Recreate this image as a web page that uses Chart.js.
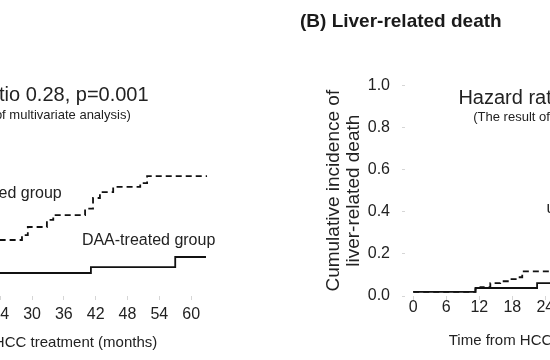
<!DOCTYPE html>
<html>
<head>
<meta charset="utf-8">
<script src="https://cdn.jsdelivr.net/npm/chart.js@4.4.0/dist/chart.umd.min.js"></script>
<style>
  html, body { margin: 0; padding: 0; background: #fff; }
  #wrap { position: relative; width: 550px; height: 360px; overflow: hidden; background: #fff; }
  #chartA { position: absolute; left: -250px; top: 0; }
  #chartB { position: absolute; left: 290px; top: 0; }
</style>
</head>
<body>
<div id="wrap">
  <canvas id="chartA" width="475" height="360" style="width:475px;height:360px"></canvas>
  <canvas id="chartB" width="447" height="360" style="width:447px;height:360px"></canvas>
</div>
<script>
// tick labels
const monthTicks = [0, 6, 12, 18, 24, 30, 36, 42, 48, 54, 60];
const yTicks = [0, 0.2, 0.4, 0.6, 0.8, 1.0];

// (A) visible part of the panel (months, cumulative incidence)
const aUntreatedMonths = [22, 28.1, 29.2, 32.8, 34, 40, 41.5, 42.8, 45.3, 50.4, 51.7, 63];
const aUntreatedValues = [0.263, 0.286, 0.324, 0.357, 0.38, 0.41, 0.46, 0.488, 0.512, 0.53, 0.563, 0.563];
const aDaaMonths = [22, 41.1, 57, 62.8];
const aDaaValues = [0.108, 0.136, 0.183, 0.183];

// (B) Liver-related death
const bUntreatedMonths = [0, 11.3, 12.2, 14, 15.8, 17.6, 18.9, 19.8, 27];
const bUntreatedValues = [0.02, 0.033, 0.042, 0.061, 0.07, 0.08, 0.089, 0.117, 0.117];
const bDaaMonths = [0, 11.3, 22.5, 27];
const bDaaValues = [0.02, 0.038, 0.061, 0.061];

const TXT = '#222';
Chart.defaults.font.family = '"Liberation Sans", Arial, Helvetica, sans-serif';
Chart.defaults.color = TXT;

function toPoints(xs, ys) {
    return xs.map((x, i) => ({ x: x, y: ys[i] }));
}

// free text placed in data coordinates
const textPlugin = {
    id: 'freeText',
    afterDatasetsDraw(chart, args, opts) {
        const ctx = chart.ctx;
        const xs = chart.scales.x, ys = chart.scales.y;
        ctx.save();
        ctx.fillStyle = TXT;
        ctx.textBaseline = 'middle';
        (opts.items || []).forEach(it => {
            ctx.font = it.font;
            ctx.textAlign = it.align || 'left';
            ctx.fillText(it.text, xs.getPixelForValue(it.x), ys.getPixelForValue(it.y));
        });
        ctx.restore();
    }
};

function lineSet(label, pts, dashed) {
    return {
        label: label,
        data: pts,
        borderColor: '#111',
        borderWidth: 1.8,
        borderDash: dashed ? [6, 4] : [],
        pointRadius: 0,
        stepped: true,
        fill: false
    };
}

function makeChart(id, cfg) {
    const ctx = document.getElementById(id).getContext('2d');
    return new Chart(ctx, {
        type: 'line',
        data: { datasets: cfg.datasets },
        plugins: [textPlugin],
        options: {
            responsive: false,
            animation: false,
            layout: { padding: { left: 10, right: 10, top: cfg.padTop, bottom: 0 } },
            plugins: {
                legend: { display: false },
                tooltip: { enabled: false },
                title: cfg.title,
                freeText: { items: cfg.items }
            },
            scales: {
                x: {
                    type: 'linear',
                    min: -1.5,
                    max: cfg.xMax,
                    border: { display: false },
                    grid: { drawOnChartArea: false, tickLength: 4, color: '#d6d6d6' },
                    afterBuildTicks: s => { s.ticks = monthTicks.filter(v => v <= s.max).map(v => ({ value: v })); },
                    ticks: { font: { size: 16 }, color: TXT, padding: cfg.xTickPad, maxRotation: 0, autoSkip: false },
                    title: {
                        display: true,
                        text: 'Time from HCC treatment (months)',
                        font: { size: 15 },
                        color: TXT,
                        padding: { top: 0, bottom: cfg.xTitlePad }
                    },
                    afterFit: s => { s.height = 64; }
                },
                y: {
                    min: 0,
                    max: 1,
                    border: { display: false },
                    grid: { drawOnChartArea: false, tickLength: 3, color: '#d6d6d6' },
                    afterBuildTicks: s => { s.ticks = yTicks.map(v => ({ value: v })); },
                    ticks: { font: { size: 16 }, color: TXT, padding: 12, callback: v => v.toFixed(1) },
                    title: {
                        display: cfg.yTitle !== null,
                        text: cfg.yTitle || '',
                        font: { size: 19, lineHeight: 1.05 },
                        color: TXT,
                        padding: { top: 24, bottom: 0 }
                    },
                    afterFit: s => { s.width = 105; }
                }
            }
        }
    });
}

makeChart('chartA', {
    xMax: 64.5,
    xTickPad: 5,
    xTitlePad: 8,
    padTop: 83,
    title: { display: false },
    yTitle: null,
    datasets: [
        lineSet('DAA-treated group', toPoints(aDaaMonths, aDaaValues), false),
        lineSet('untreated group', toPoints(aUntreatedMonths, aUntreatedValues), true)
    ],
    items: [
        { text: 'Hazard ratio 0.28, p=0.001', x: 29.6, y: 0.94, font: '20px "Liberation Sans", Arial', align: 'center' },
        { text: '(The result of multivariate analysis)', x: 29.6, y: 0.85, font: '13px "Liberation Sans", Arial', align: 'center' },
        { text: 'untreated group', x: 14.3, y: 0.48, font: '16px "Liberation Sans", Arial' },
        { text: 'DAA-treated group', x: 39.4, y: 0.258, font: '16px "Liberation Sans", Arial' }
    ]
});

makeChart('chartB', {
    xMax: 57,
    xTickPad: -2,
    xTitlePad: 10,
    padTop: 0,
    title: {
        display: true,
        text: '(B) Liver-related death',
        align: 'start',
        color: '#1a1a1a',
        font: { size: 19, weight: 'bold' },
        padding: { top: 10, bottom: 52.6 }
    },
    yTitle: ['Cumulative incidence of', 'liver-related death'],
    datasets: [
        lineSet('DAA-treated group', toPoints(bDaaMonths, bDaaValues), false),
        lineSet('untreated group', toPoints(bUntreatedMonths, bUntreatedValues), true)
    ],
    items: [
        { text: 'Hazard ratio', x: 8.2, y: 0.94, font: '20px "Liberation Sans", Arial' },
        { text: '(The result of multivariate analysis)', x: 10.9, y: 0.85, font: '13px "Liberation Sans", Arial' },
        { text: 'untreated group', x: 24.2, y: 0.415, font: '16px "Liberation Sans", Arial' }
    ]
});
</script>
</body>
</html>
